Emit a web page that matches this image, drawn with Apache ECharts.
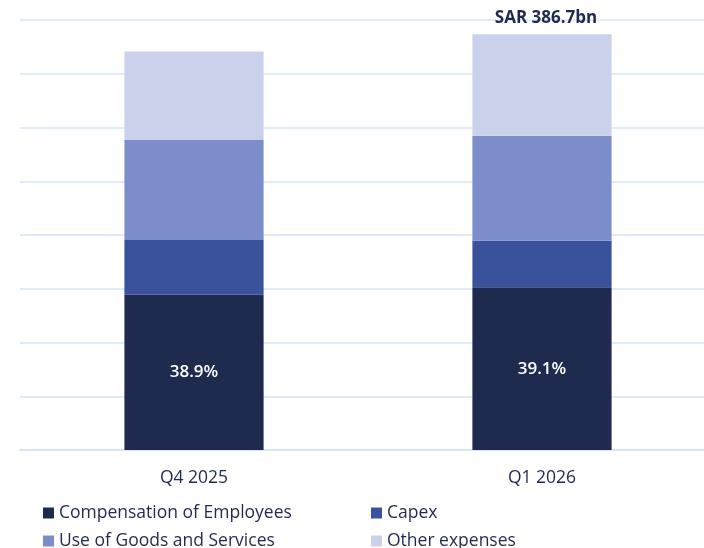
<!DOCTYPE html>
<html><head><meta charset="utf-8">
<script src="https://cdn.jsdelivr.net/npm/echarts@6/dist/echarts.min.js"></script>
<style>html,body{margin:0;padding:0;background:#fff;overflow:hidden;width:704px;height:548px}#c{width:716px;height:548px}</style>
</head><body><div id="c"></div>
<script>
const categories = ['Q4 2025', 'Q1 2026'];
const compensation = [144.5, 151.3];
const capex = [50.9, 43.3];
const goodsServices = [93.0, 97.7];
const otherExpenses = [82.4, 94.4];
const compShareLabels = ['38.9%', '39.1%'];
const totalLabels = ['', 'SAR 386.7bn'];
const seriesNames = ['Compensation of Employees', 'Capex', 'Use of Goods and Services', 'Other expenses'];
const colors = ['#1F2A4F', '#3A519B', '#7C8DCB', '#CAD2EB'];

const FONT = '"Open Sans", "Noto Sans", sans-serif';
const TEXT = '#1F2A4F';
const chart = echarts.init(document.getElementById('c'));
const datas = [compensation, capex, goodsServices, otherExpenses];
const series = datas.map((d, i) => ({
  name: seriesNames[i], type: 'bar', stack: 'total', barWidth: '40%',
  data: d, itemStyle: { color: colors[i] }, emphasis: { disabled: true }
}));
series[0].label = { show: true, position: 'inside', color: '#fff', fontFamily: FONT, fontSize: 17, fontWeight: 600,
  formatter: p => compShareLabels[p.dataIndex] };
series[3].label = { show: true, position: 'top', distance: 8, offset: [4, 0], color: TEXT, fontFamily: FONT, fontSize: 17, fontWeight: 'bold',
  formatter: p => totalLabels[p.dataIndex] };

const legendPos = [[43, 504], [371, 504], [43, 532], [371, 532]];
const legends = seriesNames.map((n, i) => ({
  data: [n], left: legendPos[i][0], top: legendPos[i][1], icon: 'rect', itemWidth: 11, itemHeight: 11, padding: 0,
  textStyle: { fontFamily: FONT, fontSize: 17.5, color: TEXT }, selectedMode: false
}));

chart.setOption({
  animation: false,
  grid: { left: 20, top: 20, right: 0, height: 430 },
  legend: legends,
  xAxis: { type: 'category', data: categories, axisTick: { show: false },
    axisLine: { lineStyle: { color: '#D3E2F6', width: 1.5 } },
    axisLabel: { fontFamily: FONT, fontSize: 17.5, color: TEXT, margin: 19 } },
  yAxis: { type: 'value', min: 0, max: 400, interval: 50, axisLabel: { show: false },
    axisLine: { show: false }, axisTick: { show: false },
    splitLine: { lineStyle: { color: '#D6E4F8', width: 1.5 } } },
  series
});
</script></body></html>
